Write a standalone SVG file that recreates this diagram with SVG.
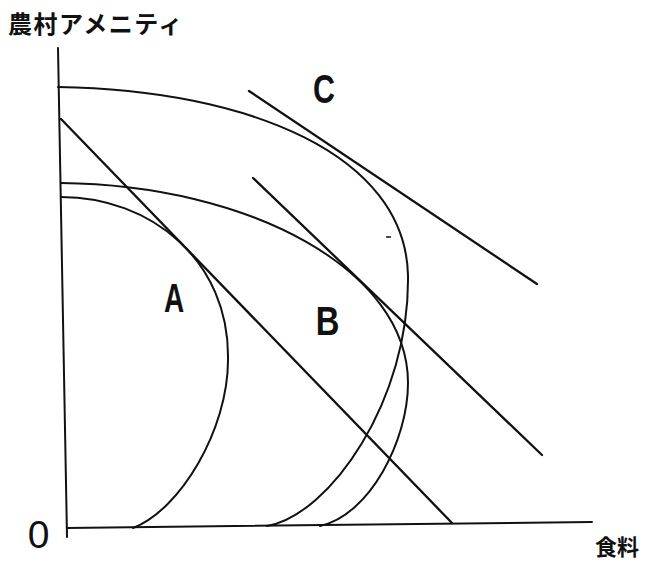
<svg xmlns="http://www.w3.org/2000/svg" width="646" height="561" viewBox="0 0 646 561">
<style>
.ln{fill:none;stroke:#111;stroke-width:2;stroke-linecap:round;stroke-linejoin:round}
.tg{fill:none;stroke:#111;stroke-width:2.3;stroke-linecap:round}
.lab{font-family:"Liberation Sans",Arial,sans-serif;font-weight:bold;font-size:40px;fill:#111;text-anchor:middle}
.jp{font-family:"Noto Sans CJK JP","Noto Sans",sans-serif;font-weight:bold;fill:#111}
</style>
<rect width="646" height="561" fill="#fff"/>
<g id="axes">
<line class="ln" x1="58" y1="48" x2="67" y2="537"/>
<line class="ln" x1="67" y1="528" x2="592" y2="522"/>
<text class="jp" x="8" y="33" font-size="24" letter-spacing="1.5">農村アメニティ</text>
<text class="jp" x="595" y="555" font-size="22">食料</text>
<text x="0" y="0" transform="translate(38.5,548)" style="font-family:'Liberation Sans',Arial,sans-serif;font-size:39px;fill:#111;text-anchor:middle">0</text>
</g>
<g id="curve-A">
<path class="ln" d="M61,197 C150,197 230,260 228,360 C228,430 180,510 133,528"/>
<text class="lab" transform="translate(174,312) scale(0.7,1)">A</text>
</g>
<g id="curve-B">
<path class="ln" d="M61,183 C250,185 408,270 408,383 C408,440 370,515 320,526"/>
<text class="lab" transform="translate(327.5,335) scale(0.82,1)">B</text>
</g>
<g id="curve-C">
<path class="ln" d="M58,87 C250,90 405,155 408,275 C410,400 330,515 267,526"/>
<line x1="386" y1="237" x2="391" y2="237" stroke="#111" stroke-width="1.5"/>
<text class="lab" transform="translate(324,103) scale(0.76,1)">C</text>
</g>
<g id="connectors">
<line class="tg" x1="61" y1="119" x2="452" y2="523"/>
<line class="tg" x1="253" y1="178" x2="542" y2="455"/>
<line class="tg" x1="249" y1="91" x2="537" y2="284"/>
</g>
</svg>
